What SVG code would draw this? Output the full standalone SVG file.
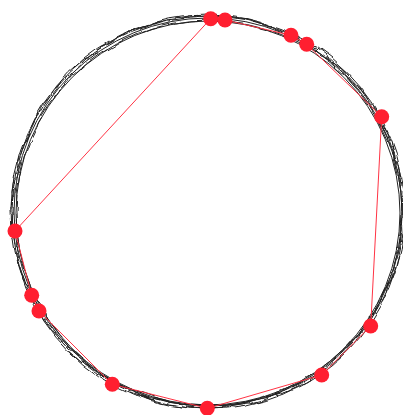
<svg xmlns="http://www.w3.org/2000/svg" width="403" height="415" viewBox="0 0 403 415">
<style>
.ring{fill:none;stroke:#222;stroke-width:1}
.edge{stroke:#ff3344;stroke-width:1;fill:none}
.dot{fill:#ff1f30}
</style>
<defs>
<filter id="w1" filterUnits="userSpaceOnUse" x="0" y="0" width="403" height="415"><feTurbulence type="fractalNoise" baseFrequency="0.06" numOctaves="1" seed="2"/><feDisplacementMap in="SourceGraphic" scale="9" xChannelSelector="R" yChannelSelector="G"/></filter>
<filter id="w2" filterUnits="userSpaceOnUse" x="0" y="0" width="403" height="415"><feTurbulence type="fractalNoise" baseFrequency="0.05" numOctaves="1" seed="7"/><feDisplacementMap in="SourceGraphic" scale="8" xChannelSelector="R" yChannelSelector="G"/></filter>
<filter id="w3" filterUnits="userSpaceOnUse" x="0" y="0" width="403" height="415"><feTurbulence type="fractalNoise" baseFrequency="0.07" numOctaves="1" seed="13"/><feDisplacementMap in="SourceGraphic" scale="7" xChannelSelector="R" yChannelSelector="G"/></filter>
</defs>
<rect width="403" height="415" fill="#fff"/>
<g id="rings">
<circle class="ring" cx="208" cy="212" r="194"/>
<circle class="ring" cx="208" cy="212" r="196" filter="url(#w1)"/>
<circle class="ring" cx="209" cy="213" r="193" filter="url(#w2)"/>
<circle class="ring" cx="207" cy="211" r="195" filter="url(#w3)"/>
<circle class="ring" cx="208" cy="213" r="192"/>
<circle class="ring" cx="208" cy="212" r="197" filter="url(#w2)"/>
</g>
<g id="connectors">
<polyline class="edge" points="15,231 210.7,18.7 225,20 291,35.3 306.7,44.3 381.7,116.7 370.7,326 321.7,375 207.3,408.3 112.3,384.3 39,311 31.7,295.3 15,231"/>
</g>
<g id="n1"><circle class="dot" cx="210.7" cy="18.7" r="7.5"/></g>
<g id="n2"><circle class="dot" cx="225" cy="20" r="7.5"/></g>
<g id="n3"><circle class="dot" cx="291" cy="35.3" r="7.5"/></g>
<g id="n4"><circle class="dot" cx="306.7" cy="44.3" r="7.5"/></g>
<g id="n5"><circle class="dot" cx="381.7" cy="116.7" r="7.5"/></g>
<g id="n6"><circle class="dot" cx="370.7" cy="326" r="7.5"/></g>
<g id="n7"><circle class="dot" cx="321.7" cy="375" r="7.5"/></g>
<g id="n8"><circle class="dot" cx="207.3" cy="408.3" r="7.5"/></g>
<g id="n9"><circle class="dot" cx="112.3" cy="384.3" r="7.5"/></g>
<g id="n10"><circle class="dot" cx="39" cy="311" r="7.5"/></g>
<g id="n11"><circle class="dot" cx="31.7" cy="295.3" r="7.5"/></g>
<g id="n12"><circle class="dot" cx="15" cy="231" r="7.5"/></g>
</svg>
